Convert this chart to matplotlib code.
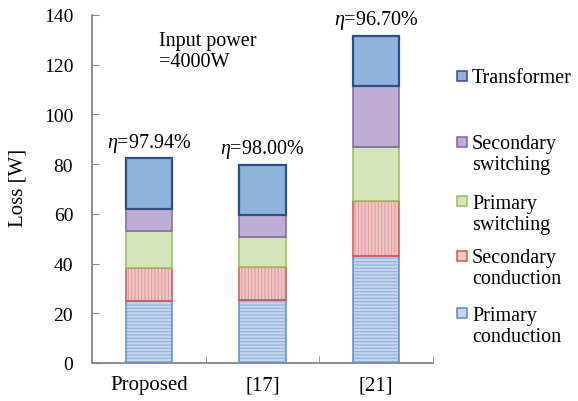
import numpy as np
import matplotlib
matplotlib.use("Agg")
import matplotlib.pyplot as plt
from matplotlib.patches import Rectangle

plt.rcParams['font.family'] = ['Liberation Serif', 'DejaVu Serif']
plt.rcParams['mathtext.fontset'] = 'custom'
plt.rcParams['mathtext.rm'] = 'Liberation Serif'
plt.rcParams['mathtext.it'] = 'Liberation Serif:italic'
plt.rcParams['hatch.linewidth'] = 0.8

# data
categories = ['Proposed', '[17]', '[21]']
efficiency = ['97.94', '98.00', '96.70']
primary_conduction = [25.0, 25.2, 43.2]
secondary_conduction = [13.3, 13.4, 21.8]
primary_switching = [15.0, 12.1, 22.0]
secondary_switching = [8.7, 8.9, 24.5]
transformer = [20.3, 20.2, 20.2]

series = [
    ('Primary\nconduction', primary_conduction, '#c5d6ee', '#8fb0dc', '#5b8bd0', '-----'),
    ('Secondary\nconduction', secondary_conduction, '#f0c8c8', '#e09a9a', '#d9544f', '|||||'),
    ('Primary\nswitching', primary_switching, '#d6e4bc', None, '#9bbb59', None),
    ('Secondary\nswitching', secondary_switching, '#bfaed3', None, '#8064a2', None),
    ('Transformer', transformer, '#8fb1dc', None, '#2c4f86', None),
]

W, H = 578, 402
fig = plt.figure(figsize=(W / 100, H / 100), dpi=100)
ax = fig.add_axes([92 / W, 1 - 364 / H, (433 - 92) / W, (364 - 16) / H])

x = np.arange(len(categories))
bottom = np.zeros(len(categories))
for label, vals, fc, hc, ec, hatch in series:
    vals = np.array(vals)
    if hatch:
        # hatched fill first, then the outline in a stronger colour
        ax.bar(x, vals, 0.405, bottom=bottom, color=fc, edgecolor=hc,
               hatch=hatch, linewidth=0, zorder=2)
        ax.bar(x, vals, 0.405, bottom=bottom, fill=False, edgecolor=ec,
               linewidth=1.1, zorder=3)
    else:
        lw = 1.6 if label == 'Transformer' else 1.1
        ax.bar(x, vals, 0.405, bottom=bottom, color=fc, edgecolor=ec,
               linewidth=lw, zorder=3)
    bottom = bottom + vals

for xi, tot, eff in zip(x, bottom, efficiency):
    ax.text(xi, tot + 6.5, r'$\eta$=' + eff + '%', ha='center', va='center', fontsize=14.5)

ax.text(0.088, 125.5, 'Input power\n=4000W', ha='left', va='center', fontsize=14.5,
        linespacing=1.15)

ax.set_xlim(-0.5, 2.5)
ax.set_ylim(0, 140)
ax.set_yticks(np.arange(0, 141, 20))
ax.set_xticks(x)
ax.set_xticklabels(categories)
ax.set_xticks([0.5, 1.5, 2.5], minor=True)
ax.tick_params(axis='x', which='major', length=0, labelsize=15, pad=9)
ax.tick_params(axis='x', which='minor', length=5, direction='in', color='#868686')
ax.tick_params(axis='y', length=5, direction='in', color='#868686', labelsize=14, pad=13.5)
ax.set_ylabel('Loss [W]', fontsize=15, va='center')
ax.yaxis.set_label_coords(-0.217, 0.506)
for s in ['top', 'right']:
    ax.spines[s].set_visible(False)
for s in ['left', 'bottom']:
    ax.spines[s].set_color('#868686')
    ax.spines[s].set_linewidth(1.3)

# legend, drawn by hand so the square sits on the first line
legend_y = [314, 256.5, 202, 142.5, 77]
for (label, vals, fc, hc, ec, hatch), ly in zip(series, legend_y):
    fig.patches.append(Rectangle((457 / W, 1 - (ly + 5) / H), 10 / W, 10 / H,
                                 transform=fig.transFigure, facecolor=fc,
                                 edgecolor=ec, linewidth=1.1))
    last_base = ly + 6 + 22 * label.count('\n')
    fig.text(472 / W, 1 - last_base / H, label, ha='left', va='baseline', fontsize=14.5,
             linespacing=1.15, transform=fig.transFigure)

fig.savefig('out.png', dpi=100)
